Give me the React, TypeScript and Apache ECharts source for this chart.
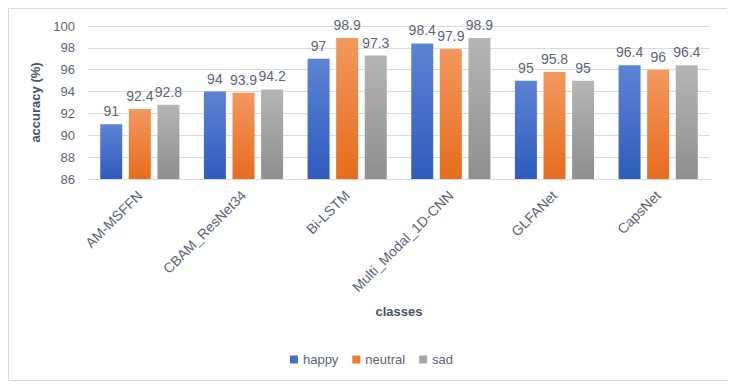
import React, { useEffect, useRef } from "react";
import * as echarts from "echarts";

const categories = ["AM-MSFFN", "CBAM_ResNet34", "Bi-LSTM", "Multi_Modal_1D-CNN", "GLFANet", "CapsNet"];
const happy = [91, 94, 97, 98.4, 95, 96.4];
const neutral = [92.4, 93.9, 98.9, 97.9, 95.8, 96];
const sad = [92.8, 94.2, 97.3, 98.9, 95, 96.4];
const seriesNames = ["happy", "neutral", "sad"];

const FONT = "Liberation Sans";
const TXT = "#5b6478";

function grad(top: string, bottom: string) {
  return new echarts.graphic.LinearGradient(0, 0, 0, 1, [
    { offset: 0, color: top },
    { offset: 1, color: bottom },
  ]);
}

export default function App() {
  const ref = useRef<HTMLDivElement>(null);
  useEffect(() => {
    if (!ref.current) return;
    const chart = echarts.init(ref.current, null, { renderer: "svg" });
    const mk = (name: string, data: number[], top: string, bottom: string) => ({
      name,
      type: "bar",
      data,
      barWidth: 22,
      barGap: "30%",
      itemStyle: { color: grad(top, bottom) },
      label: {
        show: true,
        position: "top",
        distance: 6,
        color: TXT,
        fontFamily: FONT,
        fontSize: 14,
      },
    });
    chart.setOption({
      animation: false,
      textStyle: { fontFamily: FONT },
      graphic: [
        {
          type: "rect",
          shape: { x: 0.5, y: 0.5, width: 720, height: 372 },
          style: { fill: "#fff", stroke: "#d9d9d9", lineWidth: 1 },
          z: -10,
          silent: true,
        },
      ],
      grid: { left: 80, right: 25, top: 18, bottom: 211, containLabel: false },
      legend: {
        data: [
          { name: "happy", itemStyle: { color: "#4472c4" } },
          { name: "neutral", itemStyle: { color: "#ed7d31" } },
          { name: "sad", itemStyle: { color: "#a5a5a5" } },
        ],
        top: 340,
        left: "center",
        itemWidth: 8,
        itemHeight: 8,
        itemGap: 14,
        icon: "rect",
        textStyle: { color: TXT, fontFamily: FONT, fontSize: 13 },
      },
      xAxis: {
        type: "category",
        data: categories,
        axisLine: { lineStyle: { color: "#d9d9d9" } },
        axisTick: { show: false },
        axisLabel: { rotate: 45, color: TXT, fontFamily: FONT, fontSize: 14, margin: 14, interval: 0 },
        name: "classes",
        nameLocation: "middle",
        nameGap: 126,
        nameTextStyle: { color: "#44546a", fontFamily: FONT, fontSize: 13, fontWeight: "bold" },
      },
      yAxis: {
        type: "value",
        min: 86,
        max: 100,
        interval: 2,
        axisLine: { show: false },
        axisTick: { show: false },
        splitLine: { lineStyle: { color: "#d9d9d9" } },
        axisLabel: { color: TXT, fontFamily: FONT, fontSize: 13, margin: 13 },
        name: "accuracy (%)",
        nameLocation: "middle",
        nameRotate: 90,
        nameGap: 43,
        nameTextStyle: { color: "#44546a", fontFamily: FONT, fontSize: 13, fontWeight: "bold" },
      },
      series: [
        mk(seriesNames[0], happy, "#5c84d4", "#2e5cbd"),
        mk(seriesNames[1], neutral, "#f29860", "#e66c1b"),
        mk(seriesNames[2], sad, "#b5b5b5", "#8e8e8e"),
      ],
    });
    return () => chart.dispose();
  }, []);
  return <div ref={ref} style={{ width: 727, height: 382 }} />;
}
